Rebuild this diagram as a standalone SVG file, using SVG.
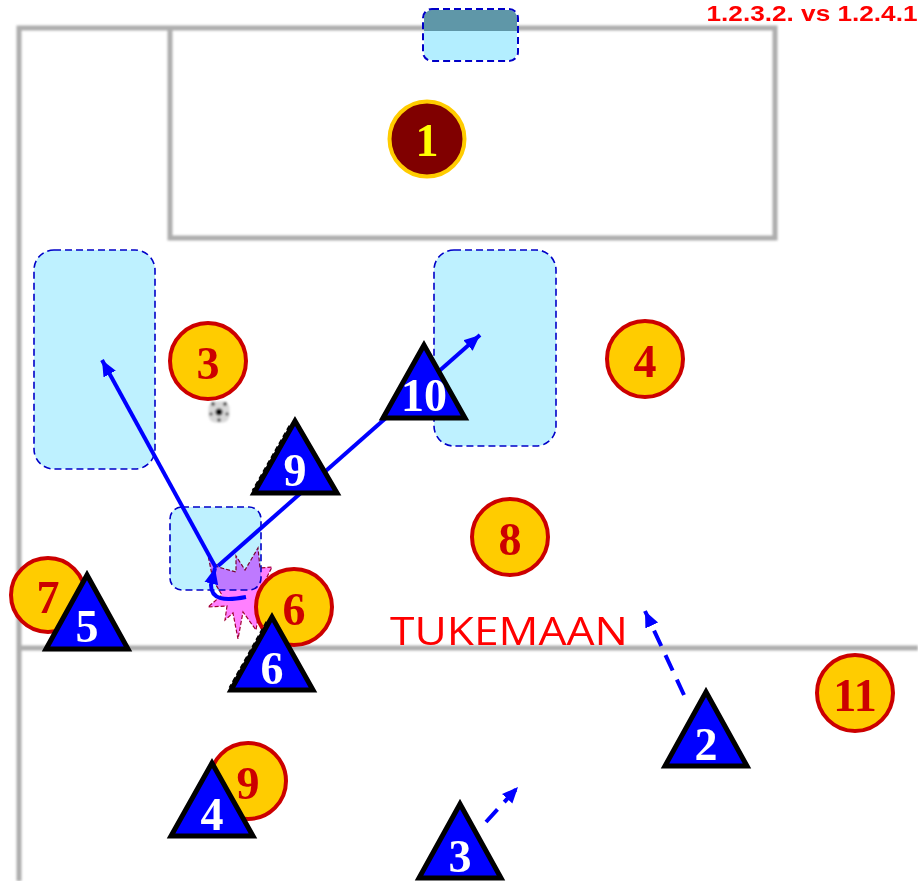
<svg xmlns="http://www.w3.org/2000/svg" width="918" height="881" viewBox="0 0 918 881">
<defs>
<style>
.field{fill:none;stroke:#aeaeae;stroke-width:5;filter:url(#soft)}
.zone{fill:#b3eeff;fill-opacity:.85;stroke:#0000c8;stroke-width:1.6;stroke-dasharray:7 4}
.run{fill:none;stroke:#0000ff;stroke-width:4}
.dash{stroke-dasharray:17 10}
.opp circle{fill:#ffcc00;stroke:#cc0000;stroke-width:4}
.opp text{fill:#cc0000;font:bold 46px "Liberation Serif",serif;text-anchor:middle}
.tri polygon{fill:#0000ff;stroke:#000;stroke-width:5;stroke-linejoin:miter}
.tri text{fill:#fff;font:bold 46px "Liberation Serif",serif;text-anchor:middle}
.rough{fill:none;stroke:#000;stroke-width:3;stroke-dasharray:5 3}
</style>
<filter id="soft" filterUnits="userSpaceOnUse" x="0" y="0" width="918" height="881"><feGaussianBlur stdDeviation="0.8"/></filter>
<filter id="ballBlur" filterUnits="userSpaceOnUse" x="200" y="395" width="40" height="35"><feGaussianBlur stdDeviation="0.9"/></filter>
<marker id="arrow" markerUnits="userSpaceOnUse" markerWidth="18" markerHeight="16" refX="16" refY="8" orient="auto"><path d="M0 1L16 8L0 15z" fill="#0000ff"/></marker>
</defs>
<rect width="918" height="881" fill="#fff"/>
<g id="field">
<path class="field" d="M19 881V28H775V238H170V28"/>
<path class="field" d="M19 648H918"/>
</g>
<g id="tackle"><polygon points="208,555 218,567 236,572 236,556 245,570 258,548 260,568 272,567 263,585 265,600 256,603 258,618 256,630 243,612 238,639 233,613 225,620 227,606 208,607 222,595 213,580" fill="#ff80ff" stroke="#a00030" stroke-width="1.2" stroke-dasharray="4 2"/></g>
<g id="zones">
<rect x="424" y="10" width="93" height="50" rx="8" fill="#b3eeff"/>
<path d="M424 31V18a8 8 0 0 1 8-8H509a8 8 0 0 1 8 8V31z" fill="#5f97a8"/>
<rect x="423" y="9" width="95" height="52" rx="9" fill="none" stroke="#0000c8" stroke-width="2" stroke-dasharray="7 4"/>
<rect class="zone" x="34" y="250" width="121" height="219" rx="20"/>
<rect class="zone" x="434" y="250" width="122" height="196" rx="20"/>
<rect class="zone" x="170" y="507" width="91" height="83" rx="12" style="mix-blend-mode:multiply"/>
</g>
<g id="connectors">
<path class="run" d="M216 568L102 360" marker-end="url(#arrow)"/>
<path class="run" d="M218 566L480 335" marker-end="url(#arrow)"/>
<path class="run" d="M246 597C225 601 211 600 211 585L215 568" marker-end="url(#arrow)"/>
<path class="run dash" d="M684 695L645 611" marker-end="url(#arrow)"/>
<path class="run dash" d="M486 822L518 787" marker-end="url(#arrow)"/>
</g>
<g id="ball" filter="url(#ballBlur)"><rect x="208.500" y="401.500" width="21" height="21" rx="7" fill="#d8d8d8"/><circle cx="219" cy="412" r="3.500" fill="#111"/><circle cx="213" cy="404" r="2" fill="#555"/><circle cx="225" cy="404" r="2" fill="#555"/><circle cx="211" cy="414" r="1.800" fill="#666"/><circle cx="227" cy="414" r="1.800" fill="#666"/><circle cx="219" cy="420" r="2" fill="#666"/></g>
<g id="opp-1"><circle cx="427" cy="139" r="37.500" fill="#800000" stroke="#ffcc00" stroke-width="4"/><text x="427" y="156" fill="#ffff00" style="font:bold 46px 'Liberation Serif',serif;text-anchor:middle">1</text></g>
<g id="opp-3" class="opp"><circle cx="208" cy="361" r="38"/><text x="208" y="379">3</text></g>
<g id="opp-4" class="opp"><circle cx="645" cy="359" r="38"/><text x="645" y="377">4</text></g>
<g id="opp-8" class="opp"><circle cx="510" cy="537" r="38"/><text x="510" y="555">8</text></g>
<g id="opp-7" class="opp"><circle cx="48" cy="595" r="37"/><text x="48" y="613">7</text></g>
<g id="opp-6" class="opp"><circle cx="294" cy="607" r="38"/><text x="294" y="625">6</text></g>
<g id="opp-11" class="opp"><circle cx="855" cy="693" r="38"/><text x="855" y="711">11</text></g>
<g id="opp-9" class="opp"><circle cx="248" cy="781" r="38"/><text x="248" y="799">9</text></g>
<g id="att-9" class="tri"><polygon points="295,421 254,493 337,493"/><path class="rough" d="M290 426L253 491"/><text x="295" y="486">9</text></g>
<g id="att-10" class="tri"><polygon points="424,345 383,418 465,418"/><text x="424" y="411">10</text></g>
<g id="att-5" class="tri"><polygon points="87,575 46,649 128,649"/><text x="87" y="642">5</text></g>
<g id="att-6" class="tri"><polygon points="272,617 231,690 313,690"/><path class="rough" d="M267 622L230 688"/><text x="272" y="684">6</text></g>
<g id="att-2" class="tri"><polygon points="706,692 665,766 747,766"/><text x="706" y="760">2</text></g>
<g id="att-4" class="tri"><polygon points="212,763 171,836 253,836"/><text x="212" y="830">4</text></g>
<g id="att-3" class="tri"><polygon points="460,804 419,878 501,878"/><text x="460" y="872">3</text></g>
<g id="labels">
<text x="509" y="645" fill="#ff0000" text-anchor="middle" textLength="238" lengthAdjust="spacingAndGlyphs" style="font:400 38px 'Open Sans','Liberation Sans',sans-serif">TUKEMAAN</text>
<text x="812" y="20.500" fill="#ff0000" text-anchor="middle" textLength="211" lengthAdjust="spacingAndGlyphs" style="font:bold 22.500px 'Liberation Sans',sans-serif">1.2.3.2. vs 1.2.4.1</text>
</g>
</svg>
